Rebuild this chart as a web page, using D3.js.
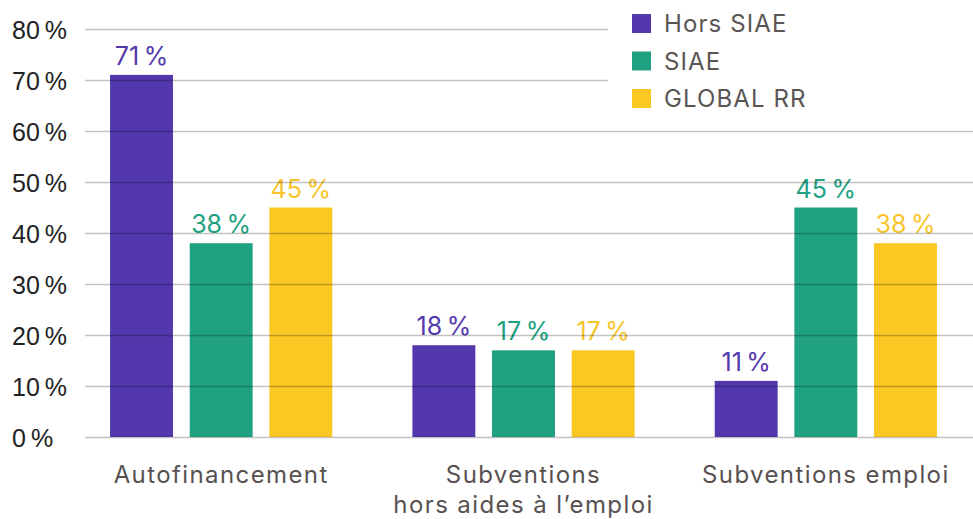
<!DOCTYPE html>
<html>
<head>
<meta charset="utf-8">
<script src="https://cdn.jsdelivr.net/npm/d3@7"></script>
<style>
  html, body { margin: 0; padding: 0; background: #fff; }
  svg { display: block; font-family: Inter, "Open Sans", sans-serif; }
</style>
</head>
<body>
<svg id="chart" width="973" height="519"></svg>
<script>
// Funding sources by structure type (share in %)
const categories = [["Autofinancement"], ["Subventions", "hors aides à l’emploi"], ["Subventions emploi"]];
const categoryKeys = ["Autofinancement", "Subventions hors aides à l’emploi", "Subventions emploi"];
const series = ["Hors SIAE", "SIAE", "GLOBAL RR"];
const horsSIAE = [71, 18, 11];
const siae = [38, 17, 45];
const globalRR = [45, 17, 38];
const yTicks = [0, 10, 20, 30, 40, 50, 60, 70, 80];
const colors = ["#5338ad", "#20a181", "#fac723"];
const labelColors = ["#5338ad", "#20a181", "#f8c42a"];

const values = [horsSIAE, siae, globalRR];
const svg = d3.select("#chart");
const W = 973, H = 519;
const fmt = v => v + "\u202F%";

const y = d3.scaleLinear().domain([0, 80]).range([437, 29]);
const x0 = d3.scaleBand().domain(categoryKeys).range([70, 977])
  .paddingInner(0.265).paddingOuter(0.1325);
const x1 = d3.scaleBand().domain(series).range([0, x0.bandwidth()])
  .paddingInner(0.21).paddingOuter(0);

// bars
const groups = svg.append("g").selectAll("g")
  .data(categoryKeys)
  .join("g")
  .attr("transform", d => `translate(${x0(d)},0)`);

groups.selectAll("rect")
  .data((d, i) => series.map((s, j) => ({ s, j, v: values[j][i] })))
  .join("rect")
  .attr("x", d => x1(d.s))
  .attr("width", x1.bandwidth())
  .attr("y", d => y(d.v))
  .attr("height", d => y(0) - y(d.v))
  .attr("fill", d => colors[d.j]);

// value labels
groups.selectAll("text")
  .data((d, i) => series.map((s, j) => ({ s, j, v: values[j][i] })))
  .join("text")
  .attr("x", d => x1(d.s) + x1.bandwidth() / 2)
  .attr("y", d => y(d.v) - 10)
  .attr("text-anchor", "middle")
  .attr("font-size", 25)
  .attr("fill", d => labelColors[d.j])
  .text(d => fmt(d.v));

// gridlines, drawn over the bars
const yAxis = d3.axisLeft(y).tickValues(yTicks).tickSize(-(W - 85)).tickFormat(fmt);
const ga = svg.append("g").attr("transform", "translate(85,0)").call(yAxis);
ga.select(".domain").remove();
ga.selectAll(".tick line")
  .attr("stroke", "rgba(0,0,0,0.24)")
  .attr("stroke-width", 1.5);
ga.selectAll(".tick text")
  .attr("x", -73)
  .attr("dy", "0.36em")
  .attr("text-anchor", "start")
  .attr("font-size", 25)
  .attr("fill", "#222");

// legend on a white panel
const legend = svg.append("g");
legend.append("rect").attr("x", 608).attr("y", 0).attr("width", W - 608).attr("height", 120).attr("fill", "#fff");
const li = legend.selectAll("g.item").data(series).join("g").attr("class", "item")
  .attr("transform", (d, i) => `translate(632,${14 + i * 37.5})`);
li.append("rect").attr("width", 19).attr("height", 19).attr("fill", (d, i) => colors[i]);
li.append("text").attr("x", 32).attr("y", 9.5).attr("dy", "0.36em")
  .attr("font-size", 24).attr("letter-spacing", 1.1).attr("fill", "#5a5555").text(d => d);

// category labels
const cat = svg.append("g").selectAll("text")
  .data(categoryKeys)
  .join("text")
  .attr("x", d => x0(d) + x0.bandwidth() / 2)
  .attr("y", 483)
  .attr("text-anchor", "middle")
  .attr("font-size", 24)
  .attr("letter-spacing", 1.4)
  .attr("fill", "#575151");
cat.selectAll("tspan")
  .data((d, i) => categories[i])
  .join("tspan")
  .attr("x", function () { return this.parentNode.getAttribute("x"); })
  .attr("dy", (d, i) => i === 0 ? 0 : 30)
  .text(d => d);
</script>
</body>
</html>
